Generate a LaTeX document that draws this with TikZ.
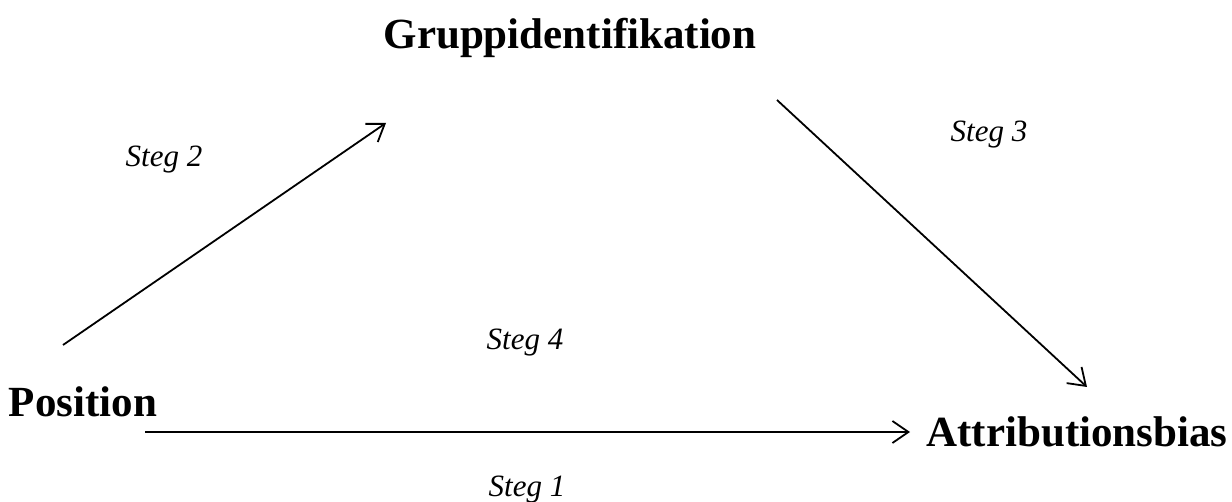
\documentclass[tikz,border=0pt]{standalone}
\usepackage{fontspec}
\setmainfont{Liberation Serif}
\usetikzlibrary{arrows.meta}
\begin{document}
\begin{tikzpicture}[x=1pt,y=-1pt,
  concept/.style={font=\fontsize{43}{48}\selectfont\bfseries, inner sep=0pt},
  steglabel/.style={font=\fontsize{31}{36}\selectfont\itshape, inner sep=0pt},
  link/.style={line width=1.8pt, -{Straight Barb[length=16pt,width=22pt,line width=1.8pt]}}]
\useasboundingbox (0,0) rectangle (1232,502);
\node[concept] (grp) at (570,38) {Gruppidentifikation};
\node[concept] (pos) at (83,402) {Position};
\node[concept] (att) at (1077,432) {Attributionsbias};
\node[steglabel] (s2) at (164,160) {Steg 2};
\node[steglabel] (s3) at (989,135) {Steg 3};
\node[steglabel] (s4) at (525,343) {Steg 4};
\node[steglabel] (s1) at (527,490) {Steg 1};
\coordinate (a2s) at (63,345);
\coordinate (a2e) at (386,123);
\coordinate (a3s) at (777,100);
\coordinate (a3e) at (1087,387);
\coordinate (a1s) at (145,432);
\coordinate (a1e) at (910,432);
\draw[link] (a2s) -- (a2e);
\draw[link] (a3s) -- (a3e);
\draw[link] (a1s) -- (a1e);
\end{tikzpicture}
\end{document}
